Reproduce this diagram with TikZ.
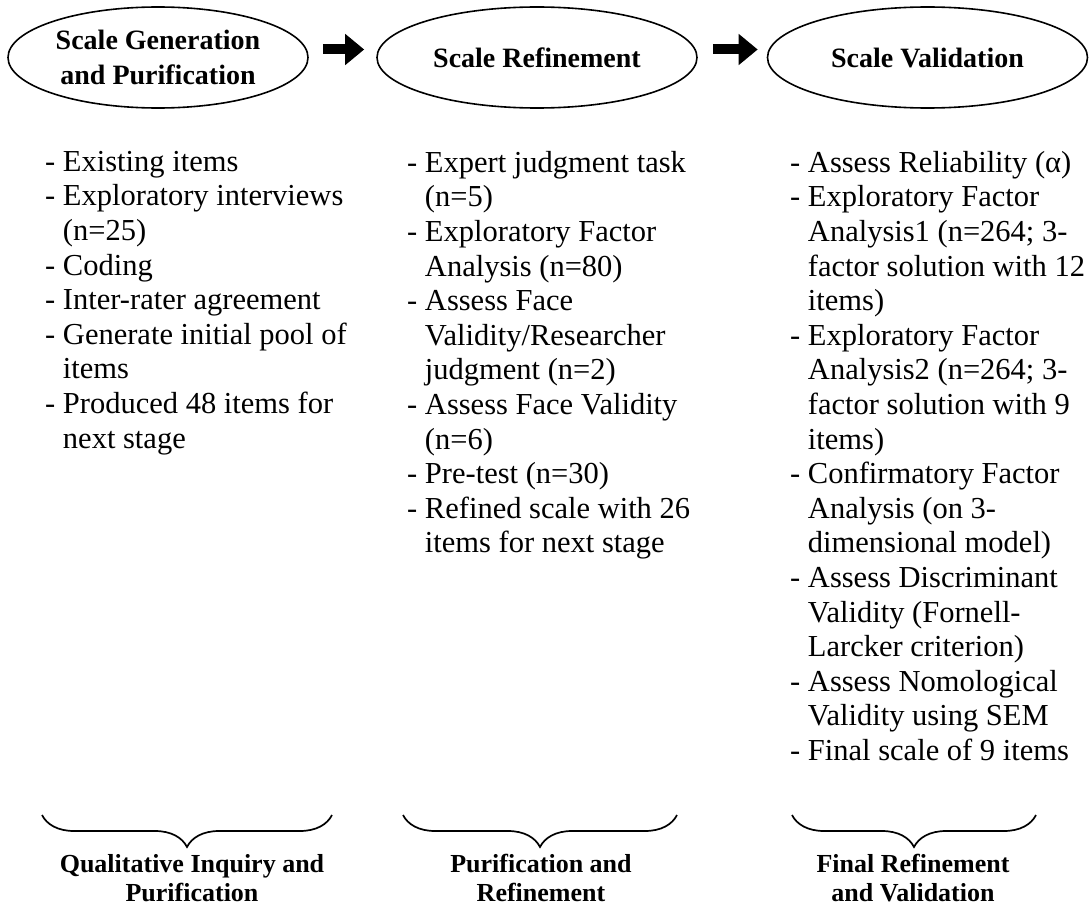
\documentclass[tikz,border=0pt]{standalone}
\usepackage{fontspec}
\setmainfont{Liberation Serif}
\usetikzlibrary{arrows.meta,shapes.geometric,decorations.pathreplacing}

\newcommand{\ind}{\hphantom{-\ }}

\begin{document}
\begin{tikzpicture}[x=1pt, y=-1pt,
  stage/.style={ellipse, draw, line width=1.6pt, inner sep=0pt, minimum height=101pt, align=center, font=\fontsize{28}{35}\selectfont\bfseries},
  items/.style={anchor=north west, inner sep=0pt, align=left, font=\fontsize{30.5}{34.6}\selectfont},
  phase/.style={align=center, inner sep=0pt, font=\fontsize{26}{29}\selectfont\bfseries},
  flow/.style={line width=10pt, -{Triangle[length=19pt,width=30pt]}},
  curly/.style={decorate, decoration={brace,mirror,amplitude=32pt}, line width=1.7pt}]
\useasboundingbox (0,0) rectangle (1090,907);

% the three stages
\node[stage, minimum width=300pt] (gen) at (158,57.5) {Scale Generation\\and Purification};
\node[stage, minimum width=320pt] (ref) at (537,57.5) {Scale Refinement};
\node[stage, minimum width=320pt] (val) at (927.5,57.5) {Scale Validation};

\draw[flow] ([xshift=14pt,yshift=8pt]gen.east) -- ([xshift=-12pt,yshift=8pt]ref.west);
\draw[flow] ([xshift=15pt,yshift=8pt]ref.east) -- ([xshift=-9pt,yshift=8pt]val.west);

% what is done in each stage
\node[items] (genitems) at (45,151) {-\ Existing items\\
-\ Exploratory interviews\\ \ind(n=25)\\
-\ Coding\\
-\ Inter-rater agreement\\
-\ Generate initial pool of\\ \ind items\\
-\ Produced 48 items for\\ \ind next stage};

\node[items] (refitems) at (407,151) {-\ Expert judgment task\\ \ind(n=5)\\
-\ Exploratory Factor\\ \ind Analysis (n=80)\\
-\ Assess Face\\ \ind Validity/Researcher\\ \ind judgment (n=2)\\
-\ Assess Face Validity\\ \ind(n=6)\\
-\ Pre-test (n=30)\\
-\ Refined scale with 26\\ \ind items for next stage};

\node[items] (valitems) at (790,151) {-\ Assess Reliability (α)\\
-\ Exploratory Factor\\ \ind Analysis1 (n=264; 3-\\ \ind factor solution with 12\\ \ind items)\\
-\ Exploratory Factor\\ \ind Analysis2 (n=264; 3-\\ \ind factor solution with 9\\ \ind items)\\
-\ Confirmatory Factor\\ \ind Analysis (on 3-\\ \ind dimensional model)\\
-\ Assess Discriminant\\ \ind Validity (Fornell-\\ \ind Larcker criterion)\\
-\ Assess Nomological\\ \ind Validity using SEM\\
-\ Final scale of 9 items};

% braces and phases
\coordinate (b1l) at (42,815);   \coordinate (b1r) at (332,815);
\coordinate (b2l) at (403,815);  \coordinate (b2r) at (677,815);
\coordinate (b3l) at (792,815);  \coordinate (b3r) at (1036,815);
\draw[curly] (b1l) -- (b1r);
\draw[curly] (b2l) -- (b2r);
\draw[curly] (b3l) -- (b3r);

\node[phase] (qual) at (192,878) {Qualitative Inquiry and\\Purification};
\node[phase] (pur) at (541,878) {Purification and\\Refinement};
\node[phase] (fin) at (913,878) {Final Refinement\\and Validation};
\end{tikzpicture}
\end{document}
